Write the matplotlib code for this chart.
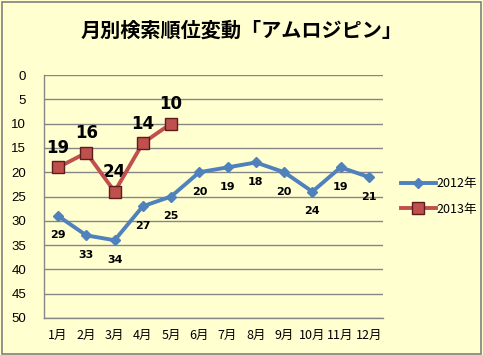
import matplotlib.pyplot as plt
from matplotlib.patches import Rectangle

plt.rcParams['font.family'] = ['Noto Sans CJK JP', 'DejaVu Sans']

months = ['1月', '2月', '3月', '4月', '5月', '6月', '7月', '8月', '9月', '10月', '11月', '12月']
rank_2012 = [29, 33, 34, 27, 25, 20, 19, 18, 20, 24, 19, 21]
rank_2013 = [19, 16, 24, 14, 10]
yticks = [0, 5, 10, 15, 20, 25, 30, 35, 40, 45, 50]

bg = '#FFFFD0'
fig = plt.figure(figsize=(4.83, 3.55), dpi=100, facecolor=bg)
fig.patches.append(Rectangle((0.004, 0.004), 0.992, 0.99, transform=fig.transFigure,
                             fill=False, edgecolor='#808080', linewidth=1.2))

ax = fig.add_axes([44 / 483, 1 - 318 / 355, (383 - 44) / 483, (318 - 75) / 355])
ax.set_facecolor(bg)

x12 = list(range(len(rank_2012)))
x13 = list(range(len(rank_2013)))
ax.plot(x12, rank_2012, color='#4F81BD', linewidth=2.8, marker='D', markersize=5,
        markeredgecolor='#4F81BD', label='2012年', zorder=3)
ax.plot(x13, rank_2013, color='#C0504D', linewidth=2.8, marker='s', markersize=8,
        markerfacecolor='#C0504D', markeredgecolor='#5A1E1C', markeredgewidth=1, label='2013年', zorder=4)

for x, v in zip(x12, rank_2012):
    ax.annotate(str(v), (x, v), xytext=(0, -14), textcoords='offset points', ha='center', va='center',
                fontsize=8, fontweight='bold', family='DejaVu Sans')
for x, v in zip(x13, rank_2013):
    ax.annotate(str(v), (x, v), xytext=(0, 14), textcoords='offset points', ha='center', va='center',
                fontsize=12, fontweight='bold', family='DejaVu Sans')

ax.set_xlim(-0.5, 11.5)
ax.set_ylim(50, 0)
ax.set_yticks(yticks)
ax.set_xticks(x12)
ax.set_xticklabels(months)
ax.tick_params(axis='both', length=0, labelsize=9, colors='black')
ax.tick_params(axis='y', pad=13)
ax.tick_params(axis='x', pad=8)
for lbl in ax.get_yticklabels():
    lbl.set_family('Liberation Sans')
    lbl.set_fontsize(9.5)
ax.grid(axis='y', color='#868686', linewidth=1)
ax.set_axisbelow(True)
for s in ['top', 'right']:
    ax.spines[s].set_visible(False)
for s in ['left', 'bottom']:
    ax.spines[s].set_color('#868686')
    ax.spines[s].set_linewidth(1)

fig.text(0.5, 1 - 30 / 355, '月別検索順位変動「アムロジピン」', ha='center', va='center',
         fontsize=14.5, fontweight='bold')

ax.legend(loc='center left', bbox_to_anchor=(1.0, 0.5), frameon=False, fontsize=9,
          handlelength=2.8, labelspacing=1.0, handletextpad=0.1, borderaxespad=1.0)

fig.savefig('out.png', dpi=100, facecolor=bg)
